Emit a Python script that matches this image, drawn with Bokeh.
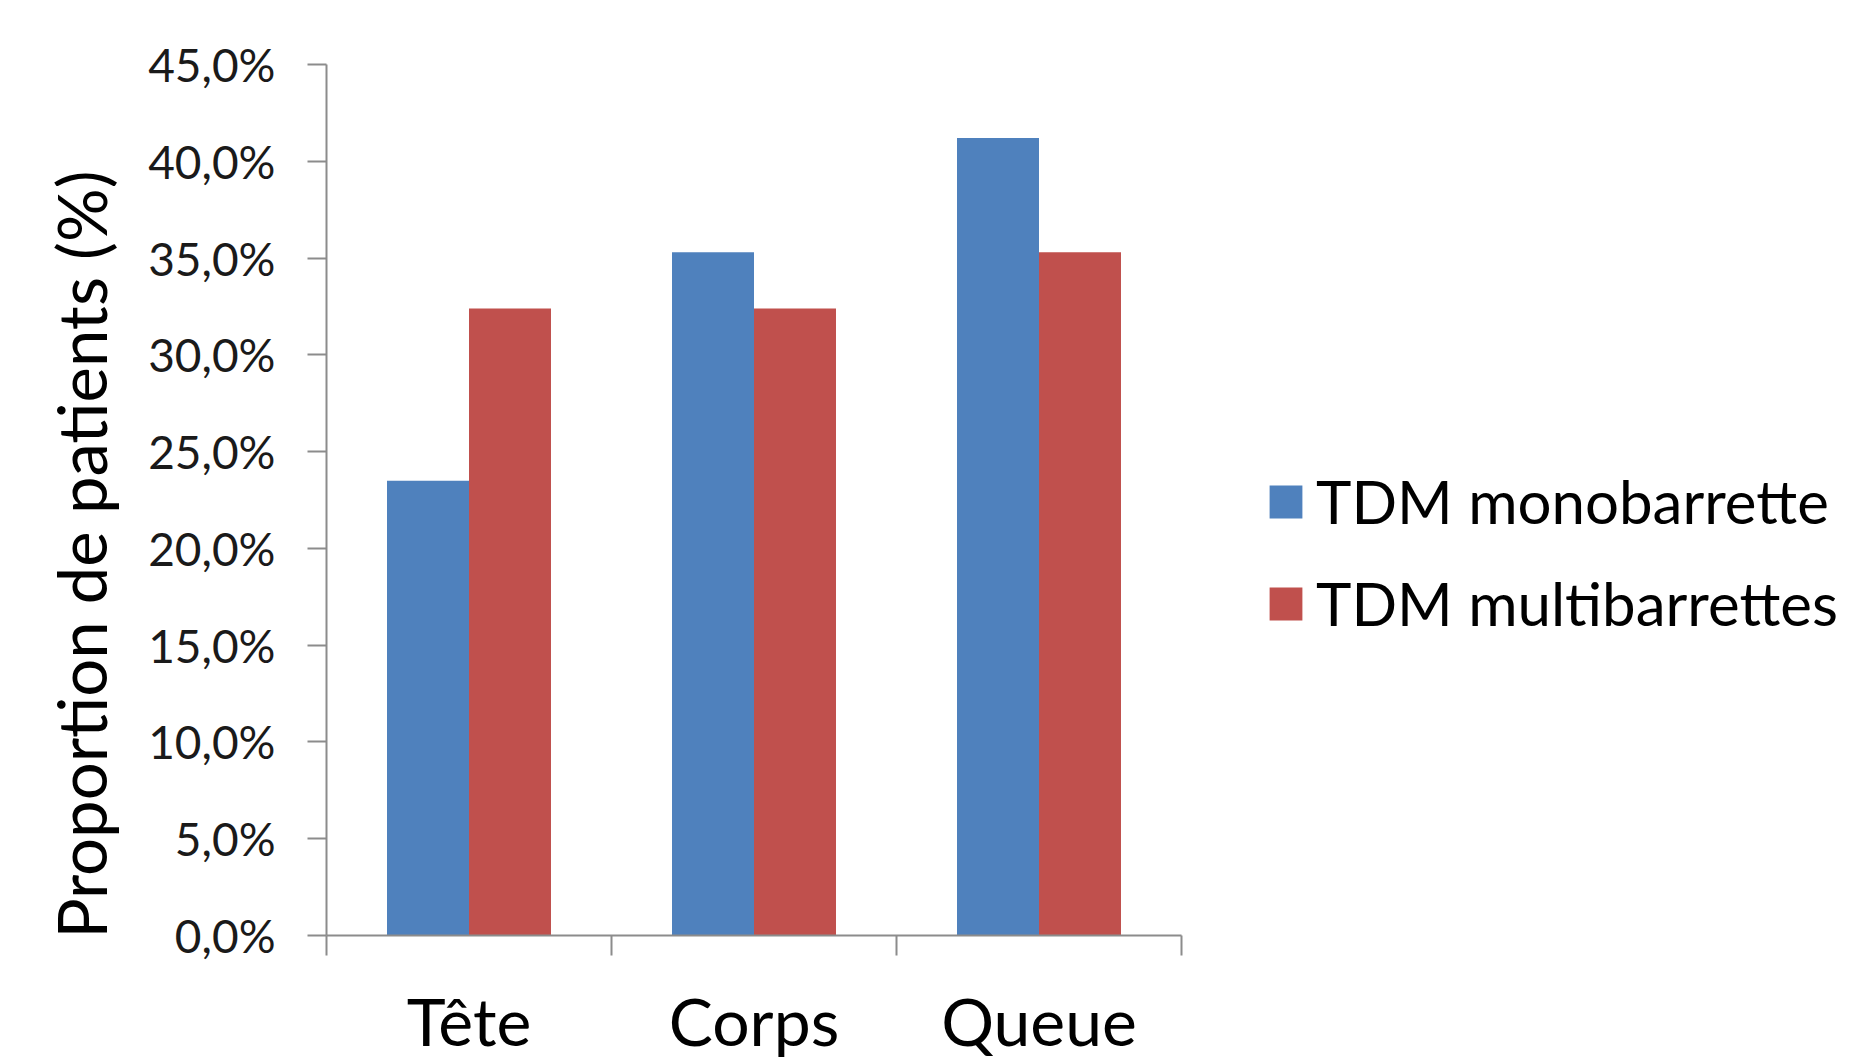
from bokeh.plotting import figure
from bokeh.models import Range1d, FixedTicker, Legend, LegendItem, Title
from bokeh.embed import file_html
from bokeh.resources import INLINE

# ---- data ----
categories = ["Tête", "Corps", "Queue"]
series_names = ["TDM monobarrette", "TDM multibarrettes"]
mono = [23.5, 35.3, 41.2]
multi = [32.4, 32.4, 35.3]
y_ticks = [0, 5, 10, 15, 20, 25, 30, 35, 40, 45]
y_tick_labels = ["0,0%", "5,0%", "10,0%", "15,0%", "20,0%", "25,0%",
                 "30,0%", "35,0%", "40,0%", "45,0%"]
y_axis_title = "Proportion de patients (%)"

# ---- style / layout ----
colors = ["#4F81BD", "#C0504D"]
FONT = "Lato"
AXIS_COLOR = "#8c8c8c"
W, H = 1857, 1062
LEFT, TOP, BOTTOM = 326, 64, 124
AXIS_PX = 855            # pixel length of the category axis
frame_w = W - LEFT        # frame runs to the right edge; axis is bounded
x_end = len(categories) * frame_w / AXIS_PX

p = figure(width=W, height=H, output_backend="svg", toolbar_location=None,
           x_range=Range1d(0, x_end), y_range=Range1d(0, y_ticks[-1]),
           min_border_left=LEFT, min_border_right=0,
           min_border_top=TOP, min_border_bottom=BOTTOM)
p.outline_line_color = None
p.grid.visible = False
p.background_fill_color = "white"

bar_w = 0.2877
centers = [i + 0.5 for i in range(len(categories))]
r1 = p.vbar(x=[c - bar_w / 2 for c in centers], top=mono, width=bar_w,
            fill_color=colors[0], line_color=None)
r2 = p.vbar(x=[c + bar_w / 2 for c in centers], top=multi, width=bar_w,
            fill_color=colors[1], line_color=None)

# y axis
ya = p.yaxis[0]
ya.ticker = FixedTicker(ticks=y_ticks, minor_ticks=[])
ya.major_label_overrides = {t: l for t, l in zip(y_ticks, y_tick_labels)}
ya.axis_line_color = AXIS_COLOR
ya.axis_line_width = 2
ya.major_tick_line_color = AXIS_COLOR
ya.major_tick_line_width = 2
ya.major_tick_in = 0
ya.major_tick_out = 19
ya.minor_tick_line_color = None
ya.major_label_standoff = 32
ya.major_label_text_font = FONT
ya.major_label_text_font_size = "46px"
ya.major_label_text_color = "#1a1a1a"

# x axis
xa = p.xaxis[0]
xa.bounds = (0, len(categories))
xa.ticker = FixedTicker(ticks=centers, minor_ticks=list(range(len(categories) + 1)))
xa.major_label_overrides = {c: n for c, n in zip(centers, categories)}
xa.axis_line_color = AXIS_COLOR
xa.axis_line_width = 2
xa.major_tick_in = 0
xa.major_tick_out = 0
xa.major_tick_line_color = None
xa.minor_tick_in = 0
xa.minor_tick_out = 20
xa.minor_tick_line_color = AXIS_COLOR
xa.minor_tick_line_width = 2
xa.major_label_standoff = 25
xa.major_label_text_font = FONT
xa.major_label_text_font_size = "66px"
xa.major_label_text_color = "#000000"

# y axis title
t = Title(text=y_axis_title, align="left", offset=-3, text_font=FONT,
          text_font_size="67px", text_font_style="normal", text_color="#000000",
          standoff=49)
p.add_layout(t, "left")

legend = Legend(items=[LegendItem(label=series_names[0], renderers=[r1]),
                       LegendItem(label=series_names[1], renderers=[r2])],
                location=(939, 296), glyph_width=41, glyph_height=41,
                label_text_font=FONT, label_text_font_size="60px",
                label_text_color="#000000",
                label_standoff=10, spacing=30, padding=0, margin=0,
                border_line_color=None, background_fill_alpha=0)
p.add_layout(legend)

open("out.html", "w").write(file_html(p, INLINE))
